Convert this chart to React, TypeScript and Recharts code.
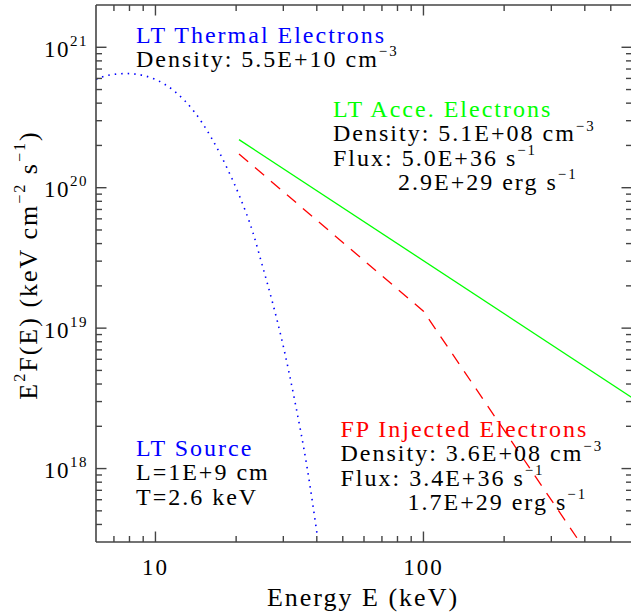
import React from "react";
import { LineChart, Line, XAxis, YAxis } from "recharts";

// E (keV) vs E^2 F(E)
const thermalE = [6.0, 6.6, 7.8, 9.0, 10.0, 11.8, 14.0, 16.1, 18.6, 20.6, 23.1, 25.1, 27.4, 29.6, 33.2, 36.7, 40.2];
const thermalF = [5.9e20, 6.3e20, 6.5e20, 6.3e20, 5.9e20, 4.85e20, 3.45e20, 2.3e20, 1.35e20, 8.7e19, 4.8e19, 2.75e19, 1.5e19, 8.3e18, 2.95e18, 1.05e18, 3.3e17];

const acceE = [20.5, 600];
const acceF = [2.2e20, 3.2e18];

const injE = [20.5, 100, 383];
const injF = [1.74e20, 1.32e19, 3.0e17];

const xTicks = [7, 8, 9, 10, 20, 30, 40, 50, 60, 70, 80, 90, 100, 200, 300, 400, 500];
const yTicks = [
  4e17, 5e17, 6e17, 7e17, 8e17, 9e17, 1e18,
  2e18, 3e18, 4e18, 5e18, 6e18, 7e18, 8e18, 9e18, 1e19,
  2e19, 3e19, 4e19, 5e19, 6e19, 7e19, 8e19, 9e19, 1e20,
  2e20, 3e20, 4e20, 5e20, 6e20, 7e20, 8e20, 9e20, 1e21,
];

const toRows = (xs: number[], ys: number[]) => xs.map((E, i) => ({ E, F: ys[i] }));
const thermal = toRows(thermalE, thermalF);
const acce = toRows(acceE, acceF);
const injected = toRows(injE, injF);

const AXIS = "#444";
const FONT = "'Liberation Serif', serif";
const BLUE = "#0000ff";
const GREEN = "#00ff00";
const RED = "#ff0000";

const isMajor = (v: number) => Math.abs(Math.log10(v) - Math.round(Math.log10(v))) < 1e-6;

function XTick(props: any) {
  const { x, y, payload, side } = props;
  const major = isMajor(payload.value);
  const len = major ? 10.5 : 6;
  const dir = side === "top" ? 1 : -1;
  return (
    <g>
      <line x1={x} y1={y} x2={x} y2={y + dir * len} stroke={AXIS} strokeWidth={1.4} />
      {major && side !== "top" && (
        <text x={x} y={y + 33} textAnchor="middle" fontFamily={FONT} fontSize={23} letterSpacing={2} fill="#000">
          {String(payload.value)}
        </text>
      )}
    </g>
  );
}

function YTick(props: any) {
  const { x, y, payload, side } = props;
  const major = isMajor(payload.value);
  const len = major ? 10.5 : 6;
  const dir = side === "right" ? -1 : 1;
  return (
    <g>
      <line x1={x} y1={y} x2={x + dir * len} y2={y} stroke={AXIS} strokeWidth={1.4} />
      {major && side !== "right" && (
        <text x={x - 8} y={y + 9.5} textAnchor="end" fontFamily={FONT} fontSize={23} letterSpacing={1.5} fill="#000">
          <tspan>10</tspan>
          <tspan dy={-11} fontSize={15}>{String(Math.round(Math.log10(payload.value)))}</tspan>
        </text>
      )}
    </g>
  );
}

type Part = [string, string?];

function Rich({
  x, y, parts, fill = "#000", size = 24, anchor = "start",
}: { x: number; y: number; parts: Part[]; fill?: string; size?: number; anchor?: string }) {
  const raise = size * 0.45;
  const els: React.ReactNode[] = [];
  let up = false;
  parts.forEach(([t, s], i) => {
    els.push(<tspan key={"t" + i} dy={up ? raise : 0}>{t}</tspan>);
    up = false;
    if (s) {
      els.push(<tspan key={"s" + i} dy={-raise} fontSize={size * 0.62}>{s}</tspan>);
      up = true;
    }
  });
  return (
    <text
      x={x}
      y={y}
      fill={fill}
      fontFamily={FONT}
      fontSize={size}
      letterSpacing={2}
      textAnchor={anchor as any}
      style={{ whiteSpace: "pre" }}
    >
      {els}
    </text>
  );
}

const thermalLabel: Part[][] = [[["LT Thermal Electrons"]], [["Density: 5.5E+10 cm", "\u22123"]]];
const acceLabel: Part[][] = [
  [["LT Acce. Electrons"]],
  [["Density: 5.1E+08 cm", "\u22123"]],
  [["Flux: 5.0E+36 s", "\u22121"]],
  [["2.9E+29 erg s", "\u22121"]],
];
const injLabel: Part[][] = [
  [["FP Injected Electrons"]],
  [["Density: 3.6E+08 cm", "\u22123"]],
  [["Flux: 3.4E+36 s", "\u22121"]],
  [["1.7E+29 erg s", "\u22121"]],
];
const sourceLabel: Part[][] = [[["LT Source"]], [["L=1E+9 cm"]], [["T=2.6 keV"]]];

function Block({
  x, y, lines, color, step = 24.3, indent = 0,
}: { x: number; y: number; lines: Part[][]; color: string; step?: number; indent?: number }) {
  return (
    <g>
      {lines.map((p, i) => (
        <Rich
          key={i}
          x={x + (i === 3 ? indent : 0)}
          y={y + i * step}
          parts={p}
          fill={i === 0 ? color : "#000"}
        />
      ))}
    </g>
  );
}

export default function App() {
  return (
    <div style={{ position: "absolute", left: 0, top: 0, width: 631, height: 614, overflow: "hidden", background: "#fff" }}>
      <LineChart width={640} height={614} margin={{ top: 4, right: 7, bottom: 71, left: 95 }}>
        <XAxis
          xAxisId="b"
          dataKey="E"
          type="number"
          scale="log"
          domain={[6, 600]}
          allowDataOverflow
          ticks={xTicks}
          interval={0}
          height={1}
          tickSize={0}
          tickMargin={0}
          tickLine={false}
          axisLine={{ stroke: AXIS, strokeWidth: 1.6 }}
          tick={(p: any) => <XTick {...p} side="bottom" />}
        />
        <XAxis
          xAxisId="t"
          orientation="top"
          dataKey="E"
          type="number"
          scale="log"
          domain={[6, 600]}
          allowDataOverflow
          ticks={xTicks}
          interval={0}
          height={1}
          tickSize={0}
          tickMargin={0}
          tickLine={false}
          axisLine={{ stroke: AXIS, strokeWidth: 1.6 }}
          tick={(p: any) => <XTick {...p} side="top" />}
        />
        <YAxis
          yAxisId="l"
          dataKey="F"
          type="number"
          scale="log"
          domain={[3e17, 2e21]}
          allowDataOverflow
          ticks={yTicks}
          interval={0}
          width={1}
          tickSize={0}
          tickMargin={0}
          tickLine={false}
          axisLine={{ stroke: AXIS, strokeWidth: 1.6 }}
          tick={(p: any) => <YTick {...p} side="left" />}
        />
        <YAxis
          yAxisId="r"
          orientation="right"
          dataKey="F"
          type="number"
          scale="log"
          domain={[3e17, 2e21]}
          allowDataOverflow
          ticks={yTicks}
          interval={0}
          width={1}
          tickSize={0}
          tickMargin={0}
          tickLine={false}
          axisLine={{ stroke: AXIS, strokeWidth: 1.6 }}
          tick={(p: any) => <YTick {...p} side="right" />}
        />
        <Line
          xAxisId="b"
          yAxisId="l"
          data={thermal}
          dataKey="F"
          type="monotone"
          stroke={BLUE}
          strokeWidth={1.6}
          strokeDasharray="1.5 5"
          dot={false}
          activeDot={false}
          isAnimationActive={false}
        />
        <Line
          xAxisId="b"
          yAxisId="l"
          data={acce}
          dataKey="F"
          type="linear"
          stroke={GREEN}
          strokeWidth={1.3}
          dot={false}
          activeDot={false}
          isAnimationActive={false}
        />
        <Line
          xAxisId="b"
          yAxisId="l"
          data={injected}
          dataKey="F"
          type="linear"
          stroke={RED}
          strokeWidth={1.3}
          strokeDasharray="12 9"
          dot={false}
          activeDot={false}
          isAnimationActive={false}
        />
      </LineChart>
      <svg width={631} height={614} style={{ position: "absolute", left: 0, top: 0, pointerEvents: "none" }}>
        <Block x={136} y={42.5} lines={thermalLabel} color={BLUE} />
        <Block x={333} y={117} lines={acceLabel} color={GREEN} indent={65} />
        <Block x={340.5} y={437} lines={injLabel} color={RED} indent={67} />
        <Block x={136} y={456} lines={sourceLabel} color={BLUE} />
        <text x={363} y={606} textAnchor="middle" fontFamily={FONT} fontSize={26} letterSpacing={2} fill="#000">
          Energy E (keV)
        </text>
        <g transform="rotate(-90 37 265)">
          <Rich
            x={37}
            y={265}
            anchor="middle"
            parts={[["E", "2"], ["F(E) (keV cm", "\u22122"], [" s", "\u22121"], [")"]]}
            size={26}
          />
        </g>
      </svg>
    </div>
  );
}
